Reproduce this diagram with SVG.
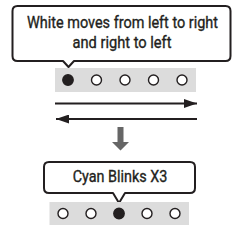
<svg xmlns="http://www.w3.org/2000/svg" width="245" height="229" viewBox="0 0 245 229">
<style>
.bubble{fill:#fff;stroke:#231f20;stroke-width:2;stroke-linejoin:round}
.strip{fill:#dcdcdc}
.led{fill:#fff;stroke:#231f20;stroke-width:1.4}
.on{fill:#231f20;stroke:#231f20;stroke-width:1.4}
.lbl{font-family:Roboto,"Liberation Sans",Arial,sans-serif;font-weight:400;font-size:16px;fill:#231f20;stroke:#231f20;stroke-width:0.35;text-anchor:middle}
.conn{stroke:#231f20;stroke-width:2;fill:none}
</style>
<defs>
<marker id="ah" markerWidth="13" markerHeight="9" refX="13" refY="4.5" orient="auto" markerUnits="userSpaceOnUse">
<path d="M0,0 L13,4.5 L0,9 Z" fill="#231f20"/>
</marker>
</defs>
<rect width="245" height="229" fill="#fff"/>
<g id="bubble-top">
<path class="bubble" d="M17.5,6 H225.5 Q230.5,6 230.5,11 V56 Q230.5,61 225.5,61 H74 L68.5,67 L63,61 H17.5 Q12.5,61 12.5,56 V11 Q12.5,6 17.5,6 Z"/>
<text class="lbl" x="122.5" y="27.5" textLength="191" lengthAdjust="spacingAndGlyphs">White moves from left to right</text>
<text class="lbl" x="122" y="47.5" textLength="99" lengthAdjust="spacingAndGlyphs">and right to left</text>
</g>
<g id="leds-top">
<rect class="strip" x="55" y="68" width="141" height="24"/>
<circle class="on" cx="68" cy="80" r="5.2"/>
<circle class="led" cx="96.5" cy="80" r="5"/>
<circle class="led" cx="125" cy="80" r="5"/>
<circle class="led" cx="153.5" cy="80" r="5"/>
<circle class="led" cx="182" cy="80" r="5"/>
</g>
<g id="connectors">
<line class="conn" x1="55" y1="103.5" x2="197" y2="103.5" marker-end="url(#ah)"/>
<line class="conn" x1="197" y1="119" x2="56" y2="119" marker-end="url(#ah)"/>
<path d="M117.5,127 H123.5 V142 H129 L120.5,150.5 L112,142 H117.5 Z" fill="#666"/>
</g>
<g id="bubble-bottom">
<path class="bubble" d="M49,162 H190 Q195,162 195,167 V188 Q195,193 190,193 H125 L119,203 L113,193 H49 Q44,193 44,188 V167 Q44,162 49,162 Z"/>
<text class="lbl" x="120" y="181.5" textLength="94.6" lengthAdjust="spacingAndGlyphs">Cyan Blinks X3</text>
</g>
<g id="leds-bottom">
<rect class="strip" x="49.5" y="202" width="139.5" height="23"/>
<circle class="led" cx="63" cy="213.5" r="5"/>
<circle class="led" cx="91" cy="213.5" r="5"/>
<circle class="on" cx="119" cy="213.5" r="5.2"/>
<circle class="led" cx="147" cy="213.5" r="5"/>
<circle class="led" cx="175" cy="213.5" r="5"/>
</g>
</svg>
